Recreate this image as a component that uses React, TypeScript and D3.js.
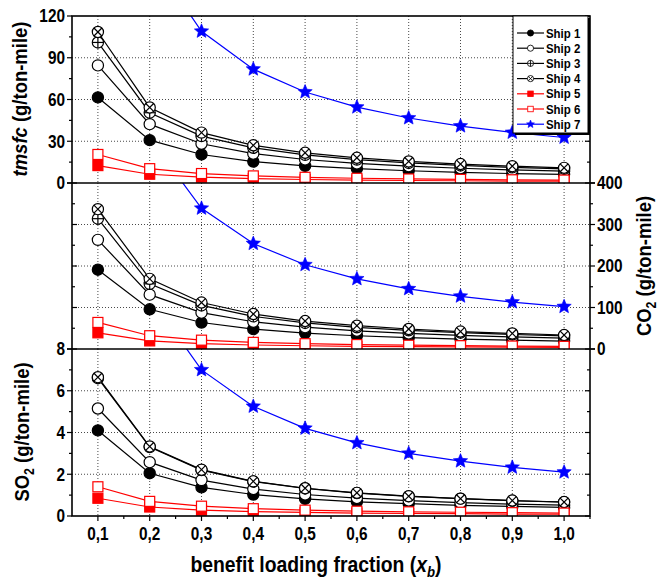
import React from "react";
import * as d3 from "d3";

// Benefit loading fraction on the shared x axis
const loadingFractions = [0.1, 0.2, 0.3, 0.4, 0.5, 0.6, 0.7, 0.8, 0.9, 1.0];
const xTickLabels = ["0,1", "0,2", "0,3", "0,4", "0,5", "0,6", "0,7", "0,8", "0,9", "1,0"];
const shipNames = ["Ship 1", "Ship 2", "Ship 3", "Ship 4", "Ship 5", "Ship 6", "Ship 7"];

// tmsfc (g/ton-mile), one row per ship
const tmsfcByShip = [
  [61.5, 30.8, 20.5, 15.4, 12.3, 10.3, 8.8, 7.7, 6.8, 6.2],
  [84.5, 42.3, 28.2, 21.1, 16.9, 14.1, 12.1, 10.6, 9.4, 8.5],
  [101, 50.5, 33.7, 25.3, 20.2, 16.8, 14.4, 12.6, 11.2, 10.1],
  [108.5, 54.3, 36.2, 27.1, 21.7, 18.1, 15.5, 13.6, 12.1, 10.9],
  [12.5, 6.3, 4.2, 3.1, 2.5, 2.1, 1.8, 1.6, 1.4, 1.3],
  [20.5, 10.3, 6.8, 5.1, 4.1, 3.4, 2.9, 2.6, 2.3, 2.1],
  [327, 163.5, 109, 81.8, 65.4, 54.5, 46.7, 40.9, 36.3, 32.7],
];

// CO2 (g/ton-mile)
const co2ByShip = [
  [191, 95.7, 63.8, 47.8, 38.3, 31.9, 27.3, 23.9, 21.3, 19.1],
  [263, 131, 87.6, 65.7, 52.5, 43.8, 37.5, 32.8, 29.2, 26.3],
  [314, 157, 105, 78.5, 62.8, 52.3, 44.9, 39.3, 34.9, 31.4],
  [337, 169, 112, 84.3, 67.4, 56.2, 48.2, 42.1, 37.5, 33.7],
  [39, 19.5, 13, 9.7, 7.8, 6.5, 5.6, 4.9, 4.3, 3.9],
  [64, 32, 21.3, 16, 12.8, 10.7, 9.1, 8, 7.1, 6.4],
  [1017, 508, 339, 254, 203, 169, 145, 127, 113, 102],
];

// SO2 (g/ton-mile)
const so2ByShip = [
  [4.1, 2.05, 1.37, 1.03, 0.82, 0.68, 0.59, 0.51, 0.46, 0.41],
  [5.15, 2.58, 1.72, 1.29, 1.03, 0.86, 0.74, 0.64, 0.57, 0.52],
  [6.6, 3.3, 2.2, 1.65, 1.32, 1.1, 0.94, 0.83, 0.73, 0.66],
  [6.65, 3.33, 2.22, 1.66, 1.33, 1.11, 0.95, 0.83, 0.74, 0.67],
  [0.85, 0.43, 0.28, 0.21, 0.17, 0.14, 0.12, 0.11, 0.09, 0.085],
  [1.4, 0.7, 0.47, 0.35, 0.28, 0.23, 0.2, 0.18, 0.16, 0.14],
  [21, 10.5, 7.0, 5.25, 4.2, 3.5, 3.0, 2.63, 2.33, 2.1],
];

const tmsfcTicks = [0, 30, 60, 90, 120];
const co2Ticks = [0, 100, 200, 300, 400];
const so2Ticks = [0, 2, 4, 6, 8];

type MarkerKind = "disc" | "circle" | "circlePlus" | "circleCross" | "squareFilled" | "squareOpen" | "star";
const shipStyles: { color: string; marker: MarkerKind }[] = [
  { color: "#000", marker: "disc" },
  { color: "#000", marker: "circle" },
  { color: "#000", marker: "circlePlus" },
  { color: "#000", marker: "circleCross" },
  { color: "#f00", marker: "squareFilled" },
  { color: "#f00", marker: "squareOpen" },
  { color: "#0000ff", marker: "star" },
];

const W = 659;
const H = 583;
const LEFT = 72;
const RIGHT = 590;
const FONT = "'Liberation Sans', Arial, Helvetica, sans-serif";
const SX = 0.88;

const x = d3.scaleLinear().domain([0.05, 1.05]).range([LEFT, RIGHT]);

function starPath(R: number) {
  const r = R * 0.45;
  const pts: [number, number][] = [];
  for (let i = 0; i < 10; i++) {
    const a = -Math.PI / 2 + (i * Math.PI) / 5;
    const rr = i % 2 === 0 ? R : r;
    pts.push([rr * Math.cos(a), rr * Math.sin(a)]);
  }
  return d3.line()(pts) + "Z";
}

function Marker({ kind, color, cx, cy, s }: { kind: MarkerKind; color: string; cx: number; cy: number; s: number }) {
  const r = 5.6 * s;
  const h = 5 * s;
  const sw = 1.2 * Math.max(s, 0.7);
  switch (kind) {
    case "disc":
      return <circle cx={cx} cy={cy} r={r} fill={color} stroke={color} strokeWidth={sw} />;
    case "circle":
      return <circle cx={cx} cy={cy} r={r} fill="#fff" stroke={color} strokeWidth={sw} />;
    case "circlePlus":
      return (
        <g stroke={color} strokeWidth={sw}>
          <circle cx={cx} cy={cy} r={r} fill="#fff" />
          <line x1={cx - r} y1={cy} x2={cx + r} y2={cy} />
          <line x1={cx} y1={cy - r} x2={cx} y2={cy + r} />
        </g>
      );
    case "circleCross": {
      const d = r * 0.7071;
      return (
        <g stroke={color} strokeWidth={sw}>
          <circle cx={cx} cy={cy} r={r} fill="#fff" />
          <line x1={cx - d} y1={cy - d} x2={cx + d} y2={cy + d} />
          <line x1={cx - d} y1={cy + d} x2={cx + d} y2={cy - d} />
        </g>
      );
    }
    case "squareFilled":
      return <rect x={cx - h} y={cy - h} width={2 * h} height={2 * h} fill={color} stroke={color} strokeWidth={sw} />;
    case "squareOpen":
      return <rect x={cx - h} y={cy - h} width={2 * h} height={2 * h} fill="#fff" stroke={color} strokeWidth={sw} />;
    case "star":
      return <path d={starPath(7.5 * s)} transform={`translate(${cx},${cy})`} fill={color} stroke={color} strokeWidth={0.6} />;
  }
}

// Horizontally narrowed bold text, positioned at (tx, ty)
function Label({ tx, ty, anchor = "middle", size, rotate = 0, children }: any) {
  return (
    <text
      transform={`translate(${tx},${ty}) rotate(${rotate}) scale(${SX},1)`}
      textAnchor={anchor}
      fontFamily={FONT}
      fontWeight="bold"
      fontSize={size}
      fill="#000"
    >
      {children}
    </text>
  );
}

type Panel = {
  id: string;
  top: number;
  bottom: number;
  ticks: number[];
  minorStep: number;
  labelSide: "left" | "right";
  data: number[][];
};

const panels: Panel[] = [
  { id: "tmsfc", top: 16, bottom: 183, ticks: tmsfcTicks, minorStep: 15, labelSide: "left", data: tmsfcByShip },
  { id: "co2", top: 183, bottom: 349, ticks: co2Ticks, minorStep: 50, labelSide: "right", data: co2ByShip },
  { id: "so2", top: 349, bottom: 516, ticks: so2Ticks, minorStep: 1, labelSide: "left", data: so2ByShip },
];

function PanelView({ p }: { p: Panel }) {
  const y = d3
    .scaleLinear()
    .domain([p.ticks[0], p.ticks[p.ticks.length - 1]])
    .range([p.bottom, p.top]);
  const minors = d3.range(p.ticks[0] + p.minorStep, p.ticks[p.ticks.length - 1], p.minorStep * 2);
  const line = d3
    .line<number>()
    .x((_, i) => x(loadingFractions[i]))
    .y((v) => y(v));
  const clipId = `clip-${p.id}`;

  const axisTicks = (side: "left" | "right") => {
    const ax = side === "left" ? LEFT : RIGHT;
    const outward = side === p.labelSide;
    const dir = (side === "left" ? -1 : 1) * (outward ? 1 : -1);
    return (
      <g stroke="#000" strokeWidth={1.2}>
        {p.ticks.map((t) => (
          <line key={`M${t}`} x1={ax} x2={ax + dir * 5} y1={y(t)} y2={y(t)} />
        ))}
        {minors.map((t) => (
          <line key={`m${t}`} x1={ax} x2={ax + dir * 3} y1={y(t)} y2={y(t)} />
        ))}
      </g>
    );
  };

  return (
    <g>
      <defs>
        <clipPath id={clipId}>
          <rect x={LEFT} y={p.top} width={RIGHT - LEFT} height={p.bottom - p.top} />
        </clipPath>
      </defs>
      {/* dotted grid */}
      <g stroke="#333" strokeWidth={0.9} strokeDasharray="1,2">
        {loadingFractions.map((f) => (
          <line key={`gx${f}`} x1={x(f)} x2={x(f)} y1={p.top} y2={p.bottom} />
        ))}
        {p.ticks.slice(1, -1).map((t) => (
          <line key={`gy${t}`} x1={LEFT} x2={RIGHT} y1={y(t)} y2={y(t)} />
        ))}
      </g>
      <g clipPath={`url(#${clipId})`}>
        {p.data.map((vals, si) => (
          <path key={`l${si}`} d={line(vals) || ""} fill="none" stroke={shipStyles[si].color} strokeWidth={1.2} />
        ))}
        {p.data.map((vals, si) => (
          <g key={`s${si}`}>
            {vals.map((v, i) => (
              <Marker key={i} kind={shipStyles[si].marker} color={shipStyles[si].color} cx={x(loadingFractions[i])} cy={y(v)} s={1} />
            ))}
          </g>
        ))}
      </g>
      {axisTicks("left")}
      {axisTicks("right")}
      {p.ticks.map((t) =>
        p.labelSide === "left" ? (
          <Label key={`t${t}`} tx={LEFT - 7} ty={y(t) + 6.3} anchor="end" size={17.5}>
            {String(t)}
          </Label>
        ) : (
          <Label key={`t${t}`} tx={RIGHT + 7} ty={y(t) + 6.3} anchor="start" size={17.5}>
            {String(t)}
          </Label>
        )
      )}
    </g>
  );
}

function Legend() {
  const x0 = 513;
  const y0 = 16;
  const w = 75;
  const h = 117;
  return (
    <g>
      <rect x={x0 + 2} y={y0 + 2} width={w} height={h} fill="#000" />
      <rect x={x0} y={y0} width={w} height={h} fill="#fff" stroke="#000" strokeWidth={1} />
      {shipNames.map((name, i) => {
        const cy = y0 + 17 + i * 15.2;
        const st = shipStyles[i];
        return (
          <g key={name}>
            <line x1={x0 + 4} x2={x0 + 31} y1={cy} y2={cy} stroke={st.color} strokeWidth={1.2} />
            <Marker kind={st.marker} color={st.color} cx={x0 + 17.5} cy={cy} s={0.55} />
            <Label tx={x0 + 33} ty={cy + 4.6} anchor="start" size={13}>
              {name}
            </Label>
          </g>
        );
      })}
    </g>
  );
}

export default function App() {
  return (
    <svg width={W} height={H} style={{ position: "absolute", left: 0, top: 0, background: "#fff" }}>
      <rect width={W} height={H} fill="#fff" />
      {panels.map((p) => (
        <PanelView key={p.id} p={p} />
      ))}
      {/* frame */}
      <g stroke="#000" strokeWidth={1.6} fill="none">
        <rect x={LEFT} y={16} width={RIGHT - LEFT} height={516 - 16} />
        <line x1={LEFT - 5} x2={RIGHT + 5} y1={183} y2={183} />
        <line x1={LEFT - 5} x2={RIGHT + 5} y1={349} y2={349} />
      </g>
      {/* bottom x ticks */}
      <g stroke="#000" strokeWidth={1.2}>
        {loadingFractions.map((f) => (
          <line key={`xt${f}`} x1={x(f)} x2={x(f)} y1={516} y2={521} />
        ))}
        {loadingFractions.map((f) => (
          <line key={`xm${f}`} x1={x(f + 0.05)} x2={x(f + 0.05)} y1={516} y2={519} />
        ))}
      </g>
      {loadingFractions.map((f, i) => (
        <Label key={`xl${f}`} tx={x(f)} ty={540} size={17.5}>
          {xTickLabels[i]}
        </Label>
      ))}
      <Legend />
      {/* axis titles */}
      <Label tx={316} ty={572} size={22}>
        benefit loading fraction (<tspan fontStyle="italic">x</tspan>
        <tspan fontStyle="italic" fontSize={15} dy={5}>b</tspan>
        <tspan dy={-5}>)</tspan>
      </Label>
      <Label tx={27} ty={99} rotate={-90} size={21}>
        <tspan fontStyle="italic">tmsfc</tspan> (g/ton-mile)
      </Label>
      <Label tx={29} ty={432} rotate={-90} size={21}>
        SO<tspan fontSize={14} dy={5}>2</tspan>
        <tspan dy={-5}> (g/ton-mile)</tspan>
      </Label>
      <Label tx={651} ty={266} rotate={-90} size={21}>
        CO<tspan fontSize={14} dy={5}>2</tspan>
        <tspan dy={-5}> (g/ton-mile)</tspan>
      </Label>
    </svg>
  );
}
